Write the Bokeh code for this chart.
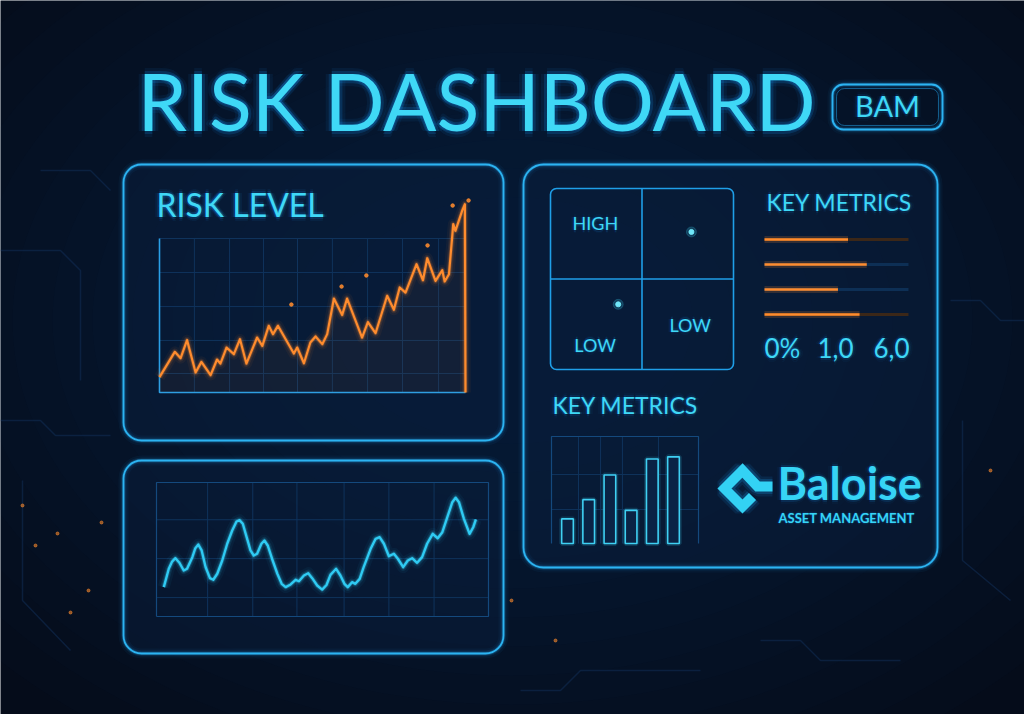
import numpy as np
from bokeh.plotting import figure
from bokeh.models import Range1d
from bokeh.core.properties import value
from bokeh.embed import file_html
from bokeh.resources import INLINE

# ---- data ----
# risk level line (x = % of period, y = risk score)
risk_x = [0, 5.0, 6.9, 9.0, 11.8, 13.7, 16.7, 18.8, 19.9, 21.9, 24.3, 26.3, 28.4, 31.9, 33.6, 35.7,
          37.1, 38.7, 43.9, 45.0, 47.2, 49.3, 51.0, 53.2, 54.8, 57.0, 59.7, 61.3, 64.1, 66.2, 68.1,
          70.6, 74.4, 76.6, 78.5, 80.4, 84.0, 86.1, 87.5, 90.2, 92.4, 93.2, 94.6, 96.0, 96.7, 98.9,
          99.8, 100]
risk_y = [10, 26.4, 22.3, 34.0, 13.0, 19.9, 11.3, 21.4, 18.8, 29.2, 24.9, 34.6, 18.8, 35.7, 30.3, 43.3,
          37.9, 43.3, 25.3, 29.2, 19.0, 32.5, 36.4, 31.4, 37.9, 61.0, 50.4, 61.0, 46.5, 35.7, 45.7,
          38.5, 62.8, 53.7, 68.2, 64.9, 83.3, 72.9, 87.2, 72.5, 79.4, 72.1, 76.8, 109.3, 105.0, 118.0,
          122.3, 0]
risk_grid_x = [11.4, 22.9, 34.0, 45.1, 56.5, 68.0, 79.4, 91.2, 100]
risk_grid_y = [12.3, 33.8, 55.8, 77.9, 100]
spark_x = [43.1, 59.5, 67.6, 87.6, 95.8, 101.0]
spark_y = [57.1, 68.8, 76.0, 95.5, 121.4, 124.7]

# lower wave chart
wave_x = [2.2, 3.7, 4.7, 5.7, 6.9, 8.2, 9.2, 10.8, 11.7, 12.6, 13.6, 14.8, 16.1, 17.1, 18.3, 19.8,
          21.3, 22.8, 24.1, 25.0, 26.0, 27.0, 28.3, 29.3, 30.3, 31.6, 32.5, 33.5, 34.8, 36.4, 37.7,
          38.9, 40.4, 41.9, 42.9, 44.4, 45.7, 46.9, 48.4, 49.9, 51.2, 52.4, 54.1, 55.4, 56.6, 57.6,
          58.9, 59.9, 61.2, 62.4, 64.5, 66.0, 67.2, 68.5, 70.0, 71.5, 72.7, 74.3, 75.7, 77.0, 78.5,
          80.0, 81.5, 83.2, 84.7, 86.1, 87.6, 89.1, 90.1, 91.1, 92.6, 94.3, 95.4, 96.2]
wave_y = [21.9, 35.6, 41.0, 43.5, 40.1, 34.3, 35.6, 44.3, 51.0, 53.7, 49.3, 36.8, 28.6, 27.4, 31.9, 41.8,
          54.3, 64.2, 70.9, 71.9, 69.2, 60.5, 49.3, 45.5, 46.8, 54.3, 56.7, 53.0, 43.1, 31.9, 24.4,
          21.9, 23.9, 27.4, 26.3, 30.6, 32.3, 28.6, 23.1, 20.1, 23.5, 31.1, 35.6, 30.6, 24.4, 21.9,
          25.6, 24.4, 28.1, 36.8, 50.5, 58.0, 59.2, 54.3, 45.0, 46.8, 43.1, 36.8, 41.8, 43.5, 40.1,
          44.3, 54.3, 61.7, 58.4, 62.9, 74.1, 85.3, 88.6, 85.3, 72.9, 61.7, 66.6, 72.4]
wave_grid_x = [15.4, 29.0, 42.3, 56.5, 70.0, 83.6]
wave_grid_y = [14.1, 43.2, 72.2]

# risk matrix
quad_x = [0.77, 0.37]
quad_y = [0.76, 0.36]
quad_labels = ["HIGH", "LOW", "LOW"]
quad_label_x = [0.12, 0.13, 0.65]
quad_label_y = [0.77, 0.10, 0.21]

# key metrics progress bars
metric_rows = [0, 1, 2, 3]
metric_fill = [0.58, 0.71, 0.51, 0.66]
metric_track = ["#3b2718", "#0d2f55", "#0d2f55", "#3b2718"]
metric_numbers = ["0%", "1,0", "6,0"]

# key metrics bar chart
bar_cat = [1, 2, 3, 4, 5, 6]
bar_val = [23, 41, 64, 31, 79, 81]
bar_grid_x = [1.52, 2.56, 3.59, 5.29]
bar_grid_y = [31.8, 64.5]

# background decoration
trace_xs = [[0, 60, 80, 80], [0, 40, 55, 110], [22, 22, 70], [950, 980, 1000, 1024],
            [962, 962, 1010], [520, 560, 580, 700], [760, 800, 820, 900], [40, 90, 110]]
trace_ys = [[250, 250, 270, 380], [420, 420, 435, 435], [480, 600, 650], [300, 300, 320, 320],
            [420, 560, 600], [690, 690, 670, 670], [640, 640, 660, 660], [170, 170, 190]]
bg_spark_x = [35, 57, 101, 88, 511, 555, 22, 70, 990]
bg_spark_y = [545, 533, 522, 590, 600, 640, 505, 612, 470]
logo_x = [772, 757, 742, 724, 742, 752]
logo_y = [486, 486, 470, 488, 506, 496]

BG = "#050c1a"
NEON = "#3fd8f6"
EDGE = "#1f9fe8"
GRID = "#0f335c"
ORANGE = "#ff8c2e"
FONT = value("Lato")

p = figure(width=1024, height=714, x_range=Range1d(0, 1024), y_range=Range1d(0, 714),
           output_backend="svg", toolbar_location=None, min_border=0,
           x_axis_location=None, y_axis_location=None)
p.title.visible = False
p.grid.visible = False
p.outline_line_color = None
p.background_fill_color = BG
p.border_fill_color = BG

xr, yr = {}, {}


def sub_ranges(name, x0, x1, left, right, y0, y1, bottom, top):
    # map a chart's data box onto a pixel box of the page
    kx = (x1 - x0) / (right - left)
    xr[name] = Range1d(x0 - left * kx, x0 + (1024 - left) * kx)
    ub, ut = 714 - bottom, 714 - top
    ky = (y1 - y0) / (ut - ub)
    yr[name] = Range1d(y0 - ub * ky, y0 + (714 - ub) * ky)


def Y(v):
    return 714 - v


def neon_text(x, y, txt, size, color=NEON, style="normal", align="left", glow=2, name="default",
              strength=1.0):
    # y is the baseline; the svg text sits ~0.38em low, so lift it
    lift = -0.38 * size
    kw = dict(text_font=FONT, text_font_size="%dpx" % size, text_font_style=style,
              text_align=align, text_baseline="alphabetic")
    if name != "default":
        kw.update(x_range_name=name, y_range_name=name)
    for r, a in ((glow * 2, 0.05), (glow, 0.12)):
        for dx, dy in ((r, 0), (-r, 0), (0, r), (0, -r)):
            p.text(x=[x], y=[y], text=[txt], x_offset=dx, y_offset=lift + dy,
                   text_color="#1a9cff", text_alpha=a * strength, **kw)
    p.text(x=[x], y=[y], text=[txt], y_offset=lift, text_color=color, **kw)


def glow_line(xs, ys, color, width, name):
    for w, a in ((width * 5, 0.05), (width * 3, 0.1), (width * 1.8, 0.25)):
        p.line(xs, ys, line_color=color, line_width=w, line_alpha=a, line_join="round",
               x_range_name=name, y_range_name=name)
    p.line(xs, ys, line_color=color, line_width=width, line_join="round",
           x_range_name=name, y_range_name=name)


def panel(l, t, r, b, radius, fill=True):
    if fill:
        p.quad(left=[l], right=[r], top=[Y(t)], bottom=[Y(b)], fill_color="#0a1f3d",
               fill_alpha=0.45, line_color=None, border_radius=radius)
    for w, a in ((10, 0.05), (6, 0.1), (3.5, 0.25)):
        p.quad(left=[l], right=[r], top=[Y(t)], bottom=[Y(b)], fill_color=None, line_color=EDGE,
               line_width=w, line_alpha=a, border_radius=radius)
    p.quad(left=[l], right=[r], top=[Y(t)], bottom=[Y(b)], fill_color=None, line_color="#2cb4f2",
           line_width=1.8, border_radius=radius)


# soft light in the middle of the page
for k in range(14):
    p.ellipse(x=512, y=Y(320), width=1400 - k * 80, height=1000 - k * 58, fill_color="#103264",
              fill_alpha=0.045, line_color=None)

p.multi_line([list(t) for t in trace_xs], [[Y(v) for v in t] for t in trace_ys],
             line_color="#12305a", line_width=1.5, line_alpha=0.5)
p.scatter(bg_spark_x, [Y(v) for v in bg_spark_y], size=3, color=ORANGE, alpha=0.55)

# title + badge
neon_text(137, Y(130), "RISK DASHBOARD", 79, glow=3, strength=1.4)
panel(832, 84, 942, 129, 11, fill=False)
p.quad(left=[836], right=[938], top=[Y(88)], bottom=[Y(125)], fill_color=None, line_color=EDGE,
       line_width=1, line_alpha=0.5, border_radius=8)
neon_text(887, Y(116), "BAM", 29, align="center")

# panels
panel(123, 164, 503, 440, 18)
panel(123, 460, 503, 653, 18)
panel(523, 164, 937, 567, 20)

# ---- risk level chart ----
sub_ranges("risk", 0, 100, 159, 465, 0, 100, 392, 238)
neon_text(156, Y(216), "RISK LEVEL", 32, strength=1.3)
p.segment(x0=risk_grid_x, y0=0, x1=risk_grid_x, y1=100, line_color=GRID, line_width=1,
          x_range_name="risk", y_range_name="risk")
p.segment(x0=0, y0=risk_grid_y, x1=100, y1=risk_grid_y, line_color=GRID, line_width=1,
          x_range_name="risk", y_range_name="risk")
p.line([0, 0, 100], [100, 0, 0], line_color="#2a9fe6", line_width=1.6,
       x_range_name="risk", y_range_name="risk")
p.varea(x=risk_x, y1=0, y2=risk_y, fill_color=ORANGE, fill_alpha=0.05,
        x_range_name="risk", y_range_name="risk")
glow_line(risk_x, risk_y, ORANGE, 2.2, "risk")
p.scatter(spark_x, spark_y, size=3.5, color=ORANGE, alpha=0.85,
          x_range_name="risk", y_range_name="risk")

# ---- lower wave chart ----
sub_ranges("wave", 0, 100, 156, 488, 0, 100, 616, 482)
p.segment(x0=wave_grid_x, y0=0, x1=wave_grid_x, y1=100, line_color=GRID, line_width=1,
          x_range_name="wave", y_range_name="wave")
p.segment(x0=0, y0=wave_grid_y, x1=100, y1=wave_grid_y, line_color=GRID, line_width=1,
          x_range_name="wave", y_range_name="wave")
p.line([0, 0, 100, 100, 0], [0, 100, 100, 0, 0], line_color="#14497d", line_width=1.2,
       x_range_name="wave", y_range_name="wave")
glow_line(wave_x, wave_y, "#2fcbf3", 2.4, "wave")

# ---- risk matrix ----
sub_ranges("quad", 0, 1, 550, 733, 0, 1, 369, 188)
p.quad(left=[0], right=[1], bottom=[0], top=[1], fill_color=None, line_color=EDGE, line_width=1.6,
       border_radius=6, x_range_name="quad", y_range_name="quad")
p.segment(x0=[0.5, 0], y0=[0, 0.5], x1=[0.5, 1], y1=[1, 0.5], line_color=EDGE, line_width=1.6,
          x_range_name="quad", y_range_name="quad")
p.scatter(quad_x, quad_y, size=10, color="#3fd8f6", alpha=0.2, x_range_name="quad", y_range_name="quad")
p.scatter(quad_x, quad_y, size=5, color="#6fe6f8", x_range_name="quad", y_range_name="quad")
for lx, ly, lt in zip(quad_label_x, quad_label_y, quad_labels):
    neon_text(lx, ly, lt, 18, name="quad", glow=1.5)

# ---- key metrics progress bars ----
sub_ranges("metric", 0, 1, 764, 908, 0, 3, 239, 314)
neon_text(766, Y(210), "KEY METRICS", 23)
p.segment(x0=0, y0=metric_rows, x1=1, y1=metric_rows, line_color=metric_track, line_width=3,
          x_range_name="metric", y_range_name="metric")
p.segment(x0=0, y0=metric_rows, x1=metric_fill, y1=metric_rows, line_color=ORANGE, line_width=7,
          line_alpha=0.18, x_range_name="metric", y_range_name="metric")
p.segment(x0=0, y0=metric_rows, x1=metric_fill, y1=metric_rows, line_color=ORANGE, line_width=2.6,
          x_range_name="metric", y_range_name="metric")
for nx, nt in zip([764, 817, 873], metric_numbers):
    neon_text(nx, Y(357), nt, 26)

# ---- key metrics bar chart ----
sub_ranges("bars", 1, 6, 567, 673, 0, 100, 543, 436)
neon_text(552, Y(413), "KEY METRICS", 23)
p.segment(x0=bar_grid_x, y0=0, x1=bar_grid_x, y1=100, line_color=GRID, line_width=1,
          x_range_name="bars", y_range_name="bars")
p.segment(x0=0.245, y0=bar_grid_y, x1=7.18, y1=bar_grid_y, line_color=GRID, line_width=1,
          x_range_name="bars", y_range_name="bars")
p.line([0.245, 0.245, 7.18, 7.18], [0, 100, 100, 0], line_color="#14497d", line_width=1.2,
       x_range_name="bars", y_range_name="bars")
p.vbar(x=bar_cat, top=bar_val, bottom=0, width=0.55, fill_color=None, line_color="#3fd8f6",
       line_width=5, line_alpha=0.15, x_range_name="bars", y_range_name="bars")
p.vbar(x=bar_cat, top=bar_val, bottom=0, width=0.55, fill_color="#0a2345", line_color="#3fd0f3",
       line_width=1.6, x_range_name="bars", y_range_name="bars")

# ---- logo ----
for w, a in ((20, 0.1), (15, 0.2)):
    p.line(logo_x, [Y(v) for v in logo_y], line_color="#1aa8ff", line_width=w, line_alpha=a)
p.line(logo_x, [Y(v) for v in logo_y], line_color="#33d2f4", line_width=10, line_join="miter")
neon_text(777, Y(500), "Baloise", 45, color="#36d4f5", style="bold", glow=2)
neon_text(778, Y(522), "ASSET MANAGEMENT", 13, color="#36d4f5", style="bold", glow=1)

p.extra_x_ranges = xr
p.extra_y_ranges = yr

open("out.html", "w").write(file_html(p, INLINE))
